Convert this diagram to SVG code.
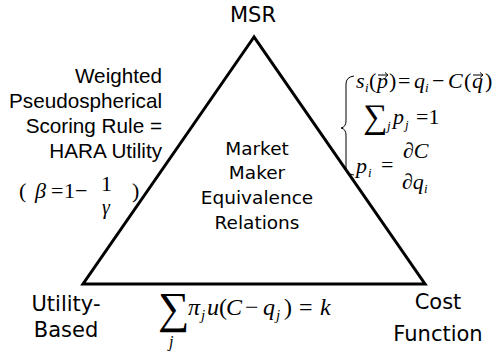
<svg xmlns="http://www.w3.org/2000/svg" width="499" height="352" viewBox="0 0 499 352">
<style>
.c{font-family:"DejaVu Sans","Noto Sans",sans-serif;fill:#000}
.a{font-family:"Liberation Sans",Arial,sans-serif;fill:#000}
.m{font-family:"Liberation Serif","Times New Roman",serif;fill:#000}
.i{font-style:italic}
.edge{stroke:#000;stroke-width:3;fill:none;stroke-linejoin:miter;stroke-miterlimit:10}
.thin{stroke:#000;stroke-width:1;fill:none}
</style>
<g id="connectors">
<polygon class="edge" points="254,37 83,284 425,284"/>
</g>
<g id="node-msr">
<text class="c" x="253" y="22" font-size="21" text-anchor="middle">MSR</text>
</g>
<g id="node-utility">
<text class="c" x="66" y="311" font-size="21" text-anchor="middle">Utility-</text>
<text class="c" x="66" y="337" font-size="21" text-anchor="middle">Based</text>
</g>
<g id="node-cost">
<text class="c" x="438" y="309" font-size="21" text-anchor="middle">Cost</text>
<text class="c" x="438" y="341" font-size="21" text-anchor="middle">Function</text>
</g>
<g id="center-label">
<text class="c" x="257" y="155" font-size="18.5" text-anchor="middle">Market</text>
<text class="c" x="257" y="179" font-size="18.5" text-anchor="middle">Maker</text>
<text class="c" x="257" y="204" font-size="18.5" text-anchor="middle">Equivalence</text>
<text class="c" x="257" y="229" font-size="18.5" text-anchor="middle">Relations</text>
</g>
<g id="left-label">
<text class="a" x="162" y="83" font-size="20.7" text-anchor="end">Weighted</text>
<text class="a" x="162" y="108" font-size="20.7" text-anchor="end">Pseudospherical</text>
<text class="a" x="162" y="133" font-size="20.7" text-anchor="end">Scoring Rule =</text>
<text class="a" x="162" y="158" font-size="20.7" text-anchor="end">HARA Utility</text>
<text class="m" y="198" font-size="22"><tspan x="19">(</tspan><tspan x="35" class="i">β</tspan><tspan x="51">=</tspan><tspan x="64">1</tspan><tspan x="75">−</tspan><tspan x="132">)</tspan></text>
<text class="m" x="101" y="191" font-size="22">1</text>
<text class="m i" x="102" y="214" font-size="20">γ</text>
</g>
<g id="right-label">
<path class="thin" d="M354,76 Q346,77 346,84 V121 Q346,127 341,128 Q346,129 346,135 V168 Q346,174 354,175"/>
<text class="m" y="88" font-size="22"><tspan x="356" class="i">s</tspan><tspan x="365" dy="4" font-size="13" class="i">i</tspan><tspan x="369" dy="-4">(</tspan><tspan x="377" class="i">p</tspan><tspan x="389">)</tspan><tspan x="398">=</tspan><tspan x="414" class="i">q</tspan><tspan x="425" dy="4" font-size="13" class="i">i</tspan><tspan x="432" dy="-4">−</tspan><tspan x="448" class="i">C</tspan><tspan x="464">(</tspan><tspan x="472" class="i">q</tspan><tspan x="485">)</tspan></text>
<path class="thin" d="M378,75 h10 m-3,-2.5 l3,2.5 l-3,2.5"/>
<path class="thin" d="M473,75 h10 m-3,-2.5 l3,2.5 l-3,2.5"/>
<text class="m" x="363" y="128" font-size="34">∑</text>
<text class="m i" x="387" y="130" font-size="13">j</text>
<text class="m i" x="393" y="124" font-size="22">p</text>
<text class="m i" x="405" y="129" font-size="13">j</text>
<text class="m" x="416" y="124" font-size="22">=1</text>
<text class="m i" x="356" y="173" font-size="22">p</text>
<text class="m i" x="368" y="177" font-size="13">i</text>
<text class="m" x="381" y="172" font-size="22">=</text>
<text class="m i" x="403" y="158" font-size="22">∂C</text>
<text class="m i" x="402" y="189" font-size="22">∂q</text>
<text class="m i" x="424" y="193" font-size="13">i</text>
</g>
<g id="bottom-label">
<text class="m" x="158" y="323" font-size="44">∑</text>
<text class="m i" x="169" y="347" font-size="16">j</text>
<text class="m i" x="188" y="315" font-size="24">π</text>
<text class="m i" x="201" y="320" font-size="15">j</text>
<text class="m i" x="207" y="315" font-size="24">u</text>
<text class="m" x="219" y="315" font-size="24">(</text>
<text class="m i" x="226" y="315" font-size="24">C</text>
<text class="m" x="245" y="315" font-size="24">−</text>
<text class="m i" x="263" y="315" font-size="24">q</text>
<text class="m i" x="276" y="320" font-size="15">j</text>
<text class="m" x="284" y="315" font-size="24">)</text>
<text class="m" x="299" y="315" font-size="24">=</text>
<text class="m i" x="320" y="315" font-size="24">k</text>
</g>
</svg>
